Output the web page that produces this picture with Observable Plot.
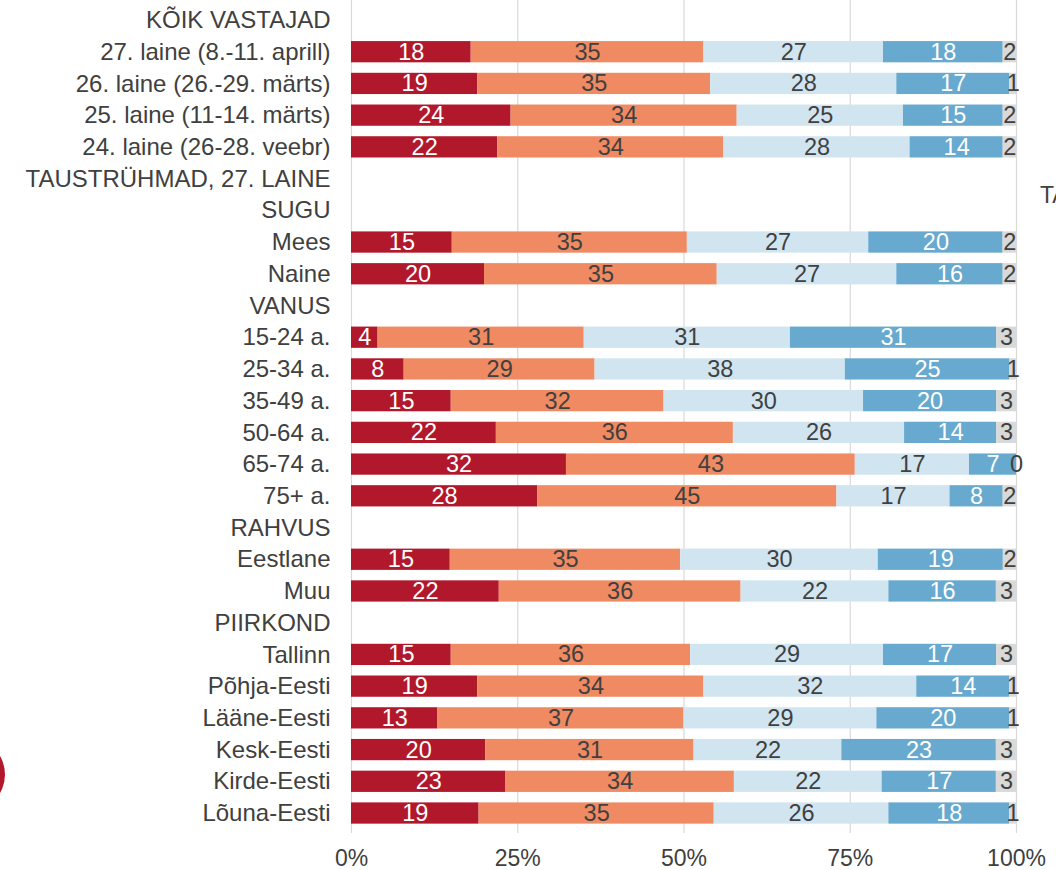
<!DOCTYPE html>
<html>
<head>
<meta charset="utf-8">
<script src="https://cdn.jsdelivr.net/npm/d3@7"></script>
<script src="https://cdn.jsdelivr.net/npm/@observablehq/plot@0.6"></script>
<style>
  html, body { margin: 0; padding: 0; background: #fff; overflow: hidden; }
  #wrap { position: relative; width: 1056px; height: 870px; }
  #extra-ta { position: absolute; left: 1040px; top: 182px; font: 23px "Liberation Sans", Arial, sans-serif; color: #404040; white-space: nowrap; }
  #logo { position: absolute; left: -68px; top: 738px; width: 73px; height: 73px; border-radius: 50%; background: #B2182B; }
</style>
</head>
<body>
<div id="wrap">
  <div id="chart"></div>
  <div id="extra-ta">TA</div>
  <div id="logo"></div>
</div>
<script>
// Row labels (group headers have no bars)
const rows = [
  "KÕIK VASTAJAD",
  "27. laine (8.-11. aprill)",
  "26. laine (26.-29. märts)",
  "25. laine (11-14. märts)",
  "24. laine (26-28. veebr)",
  "TAUSTRÜHMAD, 27. LAINE",
  "SUGU",
  "Mees",
  "Naine",
  "VANUS",
  "15-24 a.",
  "25-34 a.",
  "35-49 a.",
  "50-64 a.",
  "65-74 a.",
  "75+ a.",
  "RAHVUS",
  "Eestlane",
  "Muu",
  "PIIRKOND",
  "Tallinn",
  "Põhja-Eesti",
  "Lääne-Eesti",
  "Kesk-Eesti",
  "Kirde-Eesti",
  "Lõuna-Eesti"
];

const seriesNames = ["s1", "s2", "s3", "s4", "s5"];
const seriesColors = ["#B2182B", "#EF8A62", "#D1E5F0", "#67A9CF", "#D9D9D9"];

// Values per series (null = header row)
const s1 = [null, 18, 19, 24, 22, null, null, 15, 20, null, 4, 8, 15, 22, 32, 28, null, 15, 22, null, 15, 19, 13, 20, 23, 19];
const s2 = [null, 35, 35, 34, 34, null, null, 35, 35, null, 31, 29, 32, 36, 43, 45, null, 35, 36, null, 36, 34, 37, 31, 34, 35];
const s3 = [null, 27, 28, 25, 28, null, null, 27, 27, null, 31, 38, 30, 26, 17, 17, null, 30, 22, null, 29, 32, 29, 22, 22, 26];
const s4 = [null, 18, 17, 15, 14, null, null, 20, 16, null, 31, 25, 20, 14, 7, 8, null, 19, 16, null, 17, 14, 20, 23, 17, 18];
const s5 = [null, 2, 1, 2, 2, null, null, 2, 2, null, 3, 1, 3, 3, 0, 2, null, 2, 3, null, 3, 1, 1, 3, 3, 1];

const xTicks = [0, 0.25, 0.5, 0.75, 1];

const seriesValues = [s1, s2, s3, s4, s5];
const data = [];
rows.forEach((row, i) => {
  seriesNames.forEach((s, k) => {
    const v = seriesValues[k][i];
    if (v !== null) data.push({row, series: s, value: v});
  });
});

const font = '"Liberation Sans", Arial, sans-serif';

const chart = Plot.plot({
  width: 1056,
  height: 870,
  marginLeft: 351,
  marginRight: 40,
  marginTop: 0,
  marginBottom: 37,
  style: {fontFamily: font, fontSize: "23px", color: "#404040", background: "#fff", overflow: "visible"},
  x: {domain: [0, 1], ticks: xTicks, tickFormat: d3.format(".0%"), label: null},
  y: {domain: rows, paddingInner: 0.33, paddingOuter: 0.295, round: false, label: null},
  color: {domain: seriesNames, range: seriesColors},
  marks: [
    Plot.gridX(xTicks, {stroke: "#d9d9d9", strokeOpacity: 1, strokeWidth: 1.2}),
    Plot.barX(data, Plot.stackX({
      x: "value", y: "row", z: "series", fill: "series",
      offset: "normalize", order: seriesNames
    })),
    Plot.textX(data, Plot.stackX({
      x: "value", y: "row", z: "series", text: d => String(d.value),
      offset: "normalize", order: seriesNames,
      fill: d => (d.series === "s1" || d.series === "s4") ? "#ffffff" : "#404040",
      fontSize: 23.5, fontFamily: font
    })),
    Plot.axisX(xTicks, {tickSize: 0, tickPadding: 16, fontSize: 23, label: null, tickFormat: d3.format(".0%")}),
    Plot.axisY({tickSize: 0, tickPadding: 21, fontSize: 24, label: null})
  ]
});

document.getElementById("chart").appendChild(chart);
</script>
</body>
</html>
